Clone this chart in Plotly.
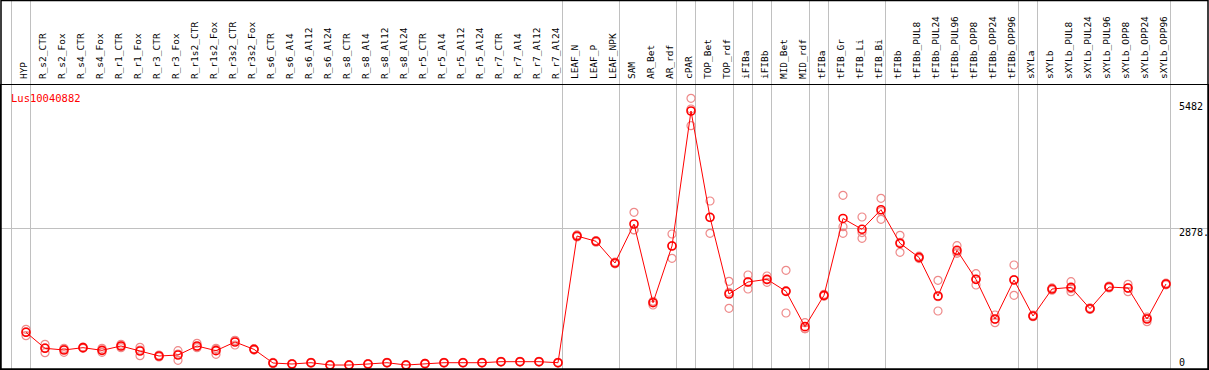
import plotly.graph_objects as go

categories = ["HYP", "R_s2_CTR", "R_s2_Fox", "R_s4_CTR", "R_s4_Fox", "R_r1_CTR", "R_r1_Fox",
              "R_r3_CTR", "R_r3_Fox", "R_r1s2_CTR", "R_r1s2_Fox", "R_r3s2_CTR", "R_r3s2_Fox",
              "R_s6_CTR", "R_s6_Al4", "R_s6_Al12", "R_s6_Al24", "R_s8_CTR", "R_s8_Al4", "R_s8_Al12",
              "R_s8_Al24", "R_r5_CTR", "R_r5_Al4", "R_r5_Al12", "R_r5_Al24", "R_r7_CTR", "R_r7_Al4",
              "R_r7_Al12", "R_r7_Al24", "LEAF_N", "LEAF_P", "LEAF_NPK", "SAM", "AR_Bet", "AR_rdf",
              "cPAR", "TOP_Bet", "TOP_rdf", "iFIBa", "iFIBb", "MID_Bet", "MID_rdf", "tFIBa",
              "tFIB_Gr", "tFIB_Li", "tFIB_Bi", "tFIBb", "tFIBb_PUL8", "tFIBb_PUL24", "tFIBb_PUL96",
              "tFIBb_OPP8", "tFIBb_OPP24", "tFIBb_OPP96", "sXYLa", "sXYLb", "sXYLb_PUL8",
              "sXYLb_PUL24", "sXYLb_PUL96", "sXYLb_OPP8", "sXYLb_OPP24", "sXYLb_OPP96"]

group_sizes = [1, 28, 3, 3, 1, 2, 1, 1, 2, 1, 3, 7, 1, 7]

mean_values = [720, 388, 353, 401, 346, 436, 332, 228, 249, 436, 339, 519, 366,
               83, 62, 89, 41, 41, 62, 89, 41, 69, 89, 89, 89, 110, 110, 110, 89,
               2718, 2608, 2158, 2967, 1334, 2511, 5312, 3106, 1515, 1764, 1819, 1570, 837,
               1487, 3082, 2857, 3264, 2566, 2275, 1473, 2421, 1819, 996, 1805,
               1058, 1618, 1653, 1210, 1660, 1639, 996, 1722]

rep1_values = [782, 471, 388, 415, 388, 471, 408, 249, 339, 491, 388, 553, 380,
               95, 70, 98, 50, 48, 70, 96, 50, 78, 96, 95, 97, 118, 117, 118, 96,
               2740, 2625, 2175, 3210, 1360, 2760, 5575, 3444, 1778, 1909, 1888, 2006, 920,
               1510, 3562, 3112, 3500, 2732, 2300, 1799, 2517, 1937, 1079, 2117,
               1075, 1640, 1771, 1225, 1680, 1716, 1010, 1740]

rep2_values = [650, 297, 305, 388, 305, 401, 235, 207, 138, 401, 263, 456, 352,
               74, 55, 80, 33, 35, 55, 82, 33, 60, 82, 83, 81, 102, 103, 102, 82,
               2700, 2590, 2140, 2843, 1286, 2255, 5008, 2774, 1218, 1618, 1757, 1120, 795,
               1470, 2774, 2670, 3064, 2380, 2250, 1162, 2358, 1702, 920, 1487,
               1045, 1595, 1563, 1195, 1640, 1563, 940, 1705]

rep3_values = [728, 396, 366, 400, 345, 436, 353, 228, 270, 416, 366, 548, 366,
               80, 61, 89, 40, 40, 61, 89, 40, 69, 89, 89, 89, 110, 110, 110, 89,
               2714, 2609, 2159, 2848, 1356, 2518, 5353, 3100, 1549, 1765, 1812, 1584, 796,
               1481, 2911, 2789, 3228, 2586, 2275, 1458, 2388, 1818, 989, 1811,
               1054, 1619, 1625, 1210, 1660, 1638, 1038, 1721]

gene_label = "Lus10040882"
right_tick_labels = [("5482", 5482, -4), ("2878.", 2878, -4), ("0", 0, 5)]

W, H = 1209, 370
ML, MR, MT, MB = 1, 1, 85, 1
plot_h = H - MT - MB
top_paper = 1 + (MT - 0.5) / plot_h

x_idx = list(range(len(categories)))
MONO = "DejaVu Sans Mono"

fig = go.Figure()
for reps in (rep1_values, rep2_values, rep3_values):
    fig.add_trace(go.Scatter(
        x=x_idx, y=reps, mode="markers", hoverinfo="skip",
        marker=dict(symbol="circle-open", size=8, color="#ee8a8a", line=dict(width=1.2, color="#ee8a8a")),
        showlegend=False))
fig.add_trace(go.Scatter(
    x=x_idx, y=mean_values, mode="lines+markers", hoverinfo="skip",
    line=dict(color="#ff0000", width=1),
    marker=dict(symbol="circle-open", size=8, color="#ff0000", line=dict(width=1.6, color="#ff0000")),
    showlegend=False))

# group separators
shapes = []
sep_positions = [-1]
acc = 0
for g in group_sizes:
    acc += g
    sep_positions.append(acc - 1)
for s in sep_positions:
    shapes.append(dict(type="line", xref="x", yref="paper", x0=s + 0.237, x1=s + 0.237,
                       y0=0, y1=top_paper, line=dict(color="#c0c0c0", width=1), layer="below"))
# outer frame
shapes.append(dict(type="rect", xref="paper", yref="paper", x0=0, x1=1, y0=0, y1=top_paper,
                   line=dict(color="black", width=1.5)))

annotations = [dict(text=gene_label, xref="paper", yref="paper", x=(9 - ML) / (W - ML - MR),
                    y=1 - (97.5 - MT) / plot_h, xanchor="left", yanchor="middle", showarrow=False,
                    font=dict(family=MONO, size=10.5, color="#ff0000"))]
for txt, val, ys in right_tick_labels:
    annotations.append(dict(text=txt, xref="paper", yref="y", x=(1177 - ML) / (W - ML - MR), y=val,
                            xanchor="left", yanchor="middle", yshift=ys, showarrow=False,
                            font=dict(family=MONO, size=10, color="black")))

px_per_cat = 19.0
x0_pix = 26.0
xr = [(ML - x0_pix) / px_per_cat, (W - MR - x0_pix) / px_per_cat]
zero_pix, scale = 367.0, 0.048193
yr = [(zero_pix - (H - MB)) / scale, (zero_pix - MT) / scale]

fig.update_layout(
    width=W, height=H, margin=dict(l=ML, r=MR, t=MT, b=MB, pad=0, autoexpand=False),
    paper_bgcolor="white", plot_bgcolor="white",
    shapes=shapes, annotations=annotations, hovermode=False,
    xaxis=dict(range=xr, side="top", tickmode="array", tickvals=x_idx, ticktext=categories,
               tickangle=-90, ticks="", showgrid=False, zeroline=False, automargin=False,
               showline=True, linecolor="black", linewidth=1, mirror=True,
               tickfont=dict(family=MONO, size=9.5, color="black"),
               ticklabelstandoff=3, ticklabelshift=-2),
    yaxis=dict(range=yr, tickmode="array", tickvals=[2878], showticklabels=False, ticks="",
               showgrid=True, gridcolor="#c0c0c0", gridwidth=1, zeroline=False, automargin=False,
               showline=True, linecolor="black", linewidth=1, mirror=True),
)

fig.write_html("out.html", config={"displayModeBar": False},
               post_script="document.body.style.margin='0';document.body.style.padding='0';")
